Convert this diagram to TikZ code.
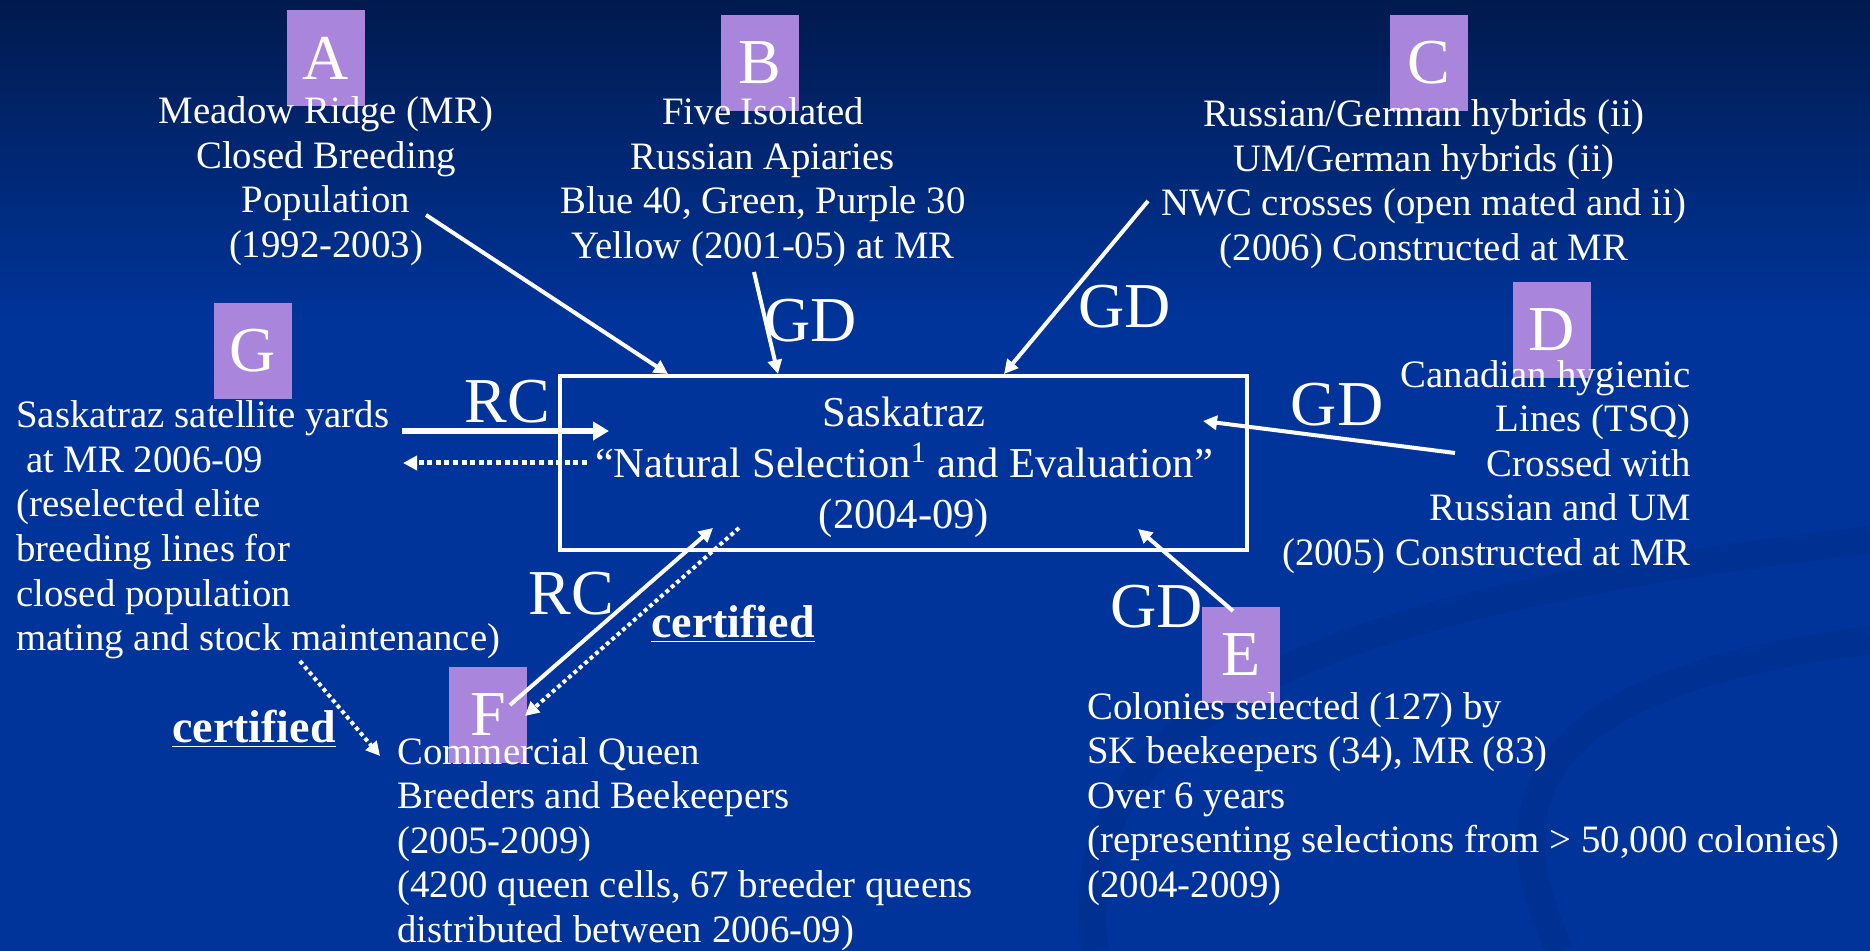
\documentclass[tikz,border=0pt]{standalone}
\usepackage{fontspec}
\setmainfont{Liberation Serif}
\usetikzlibrary{arrows.meta}
\definecolor{bgtop}{HTML}{011A4E}
\definecolor{bgmain}{HTML}{00349A}
\definecolor{swoo}{HTML}{022C88}
\definecolor{lav}{HTML}{A986DC}
\begin{document}
\begin{tikzpicture}[x=0.5pt,y=-0.5pt,
  letter/.style={fill=lav, minimum width=39pt, minimum height=48pt, inner sep=0pt, text=white, font=\fontsize{32}{32}\selectfont},
  body/.style={text=white, font=\fontsize{19.4}{22.3}\selectfont, inner sep=0pt},
  lbl/.style={text=white, font=\fontsize{32}{32}\selectfont, inner sep=0pt},
  cert/.style={text=white, font=\bfseries\fontsize{23}{23}\selectfont, inner sep=0pt},
  mainbox/.style={draw=white, line width=2pt, minimum width=343.5pt, minimum height=87pt, inner sep=0pt},
  arr/.style={white, line width=2pt, -{Triangle[length=7pt,width=7pt]}},
  thickarr/.style={white, line width=3pt, -{Triangle[length=8pt,width=9pt]}},
  dotarr/.style={white, line width=2pt, dash pattern=on 2pt off 1.6pt, -{Triangle[length=7pt,width=7pt]}},
  swoosh/.style={draw=swoo, line width=14pt, opacity=0.4}
]
\useasboundingbox (0,0) rectangle (1870,951);
\shade[top color=bgtop,bottom color=bgmain] (0,0) rectangle (1870,320);
\fill[bgmain] (0,319) rectangle (1870,951);
\draw[swoosh] (1095,951) .. controls (1060,700) and (1350,600) .. (1870,540);
\draw[swoosh] (1560,951) .. controls (1480,780) and (1560,680) .. (1870,640);

% letter boxes
\node[letter] (lA) at (326,58) {A};
\node[letter] (lB) at (760,63) {B};
\node[letter] (lC) at (1429,63) {C};
\node[letter] (lD) at (1552,330) {D};
\node[letter] (lE) at (1241,655) {E};
\node[letter] (lG) at (253,351) {G};
\node[letter] (lF) at (488,715) {F};

% texts
\node[body, align=center] (tA) at (326,181) {Meadow Ridge (MR)\\Closed Breeding\\Population\\(1992-2003)};
\node[body, align=center] (tB) at (763,182) {Five Isolated\\Russian Apiaries\\Blue 40, Green, Purple 30\\Yellow (2001-05) at MR};
\node[body, align=center] (tC) at (1424,184) {Russian/German hybrids (ii)\\UM/German hybrids (ii)\\NWC crosses (open mated and ii)\\(2006) Constructed at MR};
\node[body, align=right, anchor=east] (tD) at (1691,467) {Canadian hygienic\\Lines (TSQ)\\Crossed with\\Russian and UM\\(2005) Constructed at MR};
\node[body, align=left, anchor=west] (tG) at (16,530) {Saskatraz satellite yards\\\ at MR 2006-09\\(reselected elite\\breeding lines for\\closed population\\mating and stock maintenance)};
\node[body, align=left, anchor=west] (tF) at (397,844) {Commercial Queen\\Breeders and Beekeepers\\(2005-2009)\\(4200 queen cells, 67 breeder queens\\distributed between 2006-09)};
\node[body, align=left, anchor=west] (tE) at (1087,799) {Colonies selected (127) by\\SK beekeepers (34), MR (83)\\Over 6 years\\(representing selections from > 50,000 colonies)\\(2004-2009)};

\node[mainbox] (main) at (903.5,463) {};
\node[text=white, align=center, font=\fontsize{21.3}{25.5}\selectfont, inner sep=0pt] (mainT) at (904,467) {Saskatraz\\“Natural Selection\textsuperscript{1} and Evaluation”\\(2004-09)};

% labels
\node[lbl] (gdB) at (811,321) {GD};
\node[lbl] (gdC) at (1125,307) {GD};
\node[lbl] (gdD) at (1337,405) {GD};
\node[lbl] (gdE) at (1157,607) {GD};
\node[lbl] (rcG) at (507,402) {RC};
\node[lbl] (rcF) at (571,594) {RC};
\node[cert] (certF) at (733,624) {\underline{certified}};
\node[cert] (certG) at (254,729) {\underline{certified}};

% arrow end points
\coordinate (aS) at (426,215); \coordinate (aE) at (668,374);
\coordinate (bS) at (754,272); \coordinate (bE) at (778,374);
\coordinate (cS) at (1148,201); \coordinate (cE) at (1004,374);
\coordinate (dS) at (1455,453); \coordinate (dE) at (1203,421);
\coordinate (eS) at (1233,611); \coordinate (eE) at (1138,529);
\coordinate (gS) at (402,431); \coordinate (gE) at (609,431);
\coordinate (gdS) at (587,463); \coordinate (gdE) at (403,463);
\coordinate (fS) at (510,705); \coordinate (fE) at (713,528);
\coordinate (fdS) at (739,528); \coordinate (fdE) at (525,716);
\coordinate (cdS) at (300,661); \coordinate (cdE) at (380,756);

\draw[arr] (aS) -- (aE);
\draw[arr] (bS) -- (bE);
\draw[arr] (cS) -- (cE);
\draw[arr] (dS) -- (dE);
\draw[arr] (eS) -- (eE);
\draw[thickarr] (gS) -- (gE);
\draw[dotarr, line width=2.5pt, dash pattern=on 2.5pt off 1.8pt] (gdS) -- (gdE);
\draw[arr] (fS) -- (fE);
\draw[dotarr] (fdS) -- (fdE);
\draw[dotarr] (cdS) -- (cdE);
\end{tikzpicture}
\end{document}
